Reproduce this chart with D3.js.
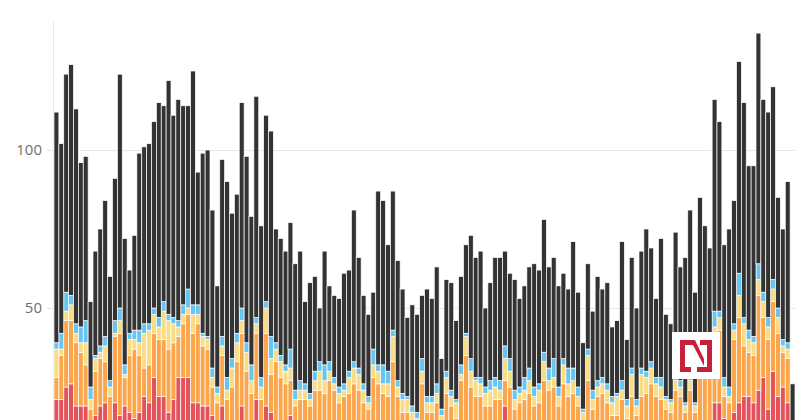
<!DOCTYPE html>
<html>
<head>
<meta charset="utf-8">
<script src="https://cdn.jsdelivr.net/npm/d3@7"></script>
<style>
  html, body { margin: 0; padding: 0; background: #fff; }
  svg { display: block; }
</style>
</head>
<body>
<svg id="chart" width="800" height="420"></svg>
<script>
// ---- data (segment values per bar, bottom to top) ----
const red = [21,21,25,26,19,19,19,14,16,19,20,12,20,16,19,17,15,17,22,20,28,22,22,17,21,28,28,28,20,20,
  19,19,16,10,19,12,12,13,19,12,12,21,12,19,17,12,12,12,16,10,10,10,10,12,12,12,12,11,10,10,
  11,12,11,10,10,12,12,11,11,12,10,9,9,8,8,11,9,9,10,8,10,9,8,11,12,11,10,10,9,9,
  10,10,19,11,9,10,10,11,9,10,11,10,11,9,11,10,10,9,8,11,9,10,10,9,8,8,10,8,12,8,
  12,11,12,10,10,8,8,10,10,9,13,9,12,12,12,20,20,15,14,17,20,22,22,20,24,28,18,30,22,25,
  20,6];
const orange = [7,14,21,20,20,17,13,4,14,15,13,10,21,26,9,18,22,18,9,12,14,18,18,20,18,13,17,20,22,25,
  19,18,9,10,16,9,13,20,23,18,11,21,9,23,12,21,16,14,11,9,11,11,9,12,12,11,15,13,10,12,
  12,14,13,10,8,16,14,12,11,21,12,8,8,6,5,15,8,8,10,5,13,10,7,16,23,14,12,12,10,10,
  11,11,8,14,9,10,11,12,10,10,16,14,14,10,15,12,13,10,6,16,9,12,13,11,8,8,11,7,10,8,
  10,12,14,12,11,10,9,14,12,8,11,8,18,18,20,22,23,7,6,23,27,16,14,15,30,19,22,22,20,11,
  14,4];
const yellow = [9,2,3,5,3,3,7,3,4,2,5,3,1,4,1,5,3,4,11,11,6,4,9,9,6,3,3,2,6,3,
  3,3,3,3,3,3,6,6,4,6,4,3,4,8,5,4,5,4,4,2,3,3,2,3,6,4,3,2,3,2,
  5,5,5,4,2,4,4,3,4,8,3,4,4,3,2,4,3,3,3,3,5,3,5,2,6,5,5,4,4,5,
  4,3,7,5,3,3,3,4,3,4,6,3,3,3,6,4,4,3,3,8,3,3,3,4,4,6,3,4,7,3,
  7,5,5,4,4,3,3,3,3,2,3,2,3,3,3,2,4,3,2,3,7,7,4,4,5,5,4,4,5,2,
  3,2];
const blue = [2,5,6,3,3,5,7,4,1,2,3,2,4,4,3,2,3,4,3,2,2,3,3,2,2,2,3,6,3,3,
  1,1,3,2,3,4,3,3,4,3,5,2,3,2,7,2,2,2,6,3,3,2,2,3,3,5,3,2,2,2,
  2,2,2,2,2,5,2,6,4,2,2,2,1,2,2,4,2,2,3,2,2,2,1,3,1,4,1,2,2,3,
  3,3,4,4,3,2,4,4,3,2,3,4,6,3,2,5,4,3,1,2,3,2,2,2,2,1,3,2,2,2,
  2,2,2,2,3,1,1,2,2,1,2,1,2,2,2,5,2,3,3,2,7,2,3,2,5,3,3,3,3,2,
  2,2];
const other = [73,60,69,73,68,52,52,27,33,37,43,33,45,74,40,20,30,56,56,57,59,68,62,74,64,70,63,58,74,42,
  57,59,50,32,56,62,46,44,65,59,47,70,48,59,65,36,37,36,40,40,41,26,35,30,17,36,24,26,28,35,
  32,48,35,28,26,18,55,52,40,44,38,33,25,32,31,20,34,31,37,16,29,34,25,28,28,39,38,40,25,31,
  38,39,30,27,35,28,29,32,39,36,42,32,32,32,27,25,40,30,21,27,25,33,28,32,22,23,44,19,35,29,
  37,45,36,25,44,26,24,45,36,46,52,35,50,41,32,67,60,42,50,39,67,68,52,54,73,61,65,61,35,35,
  51,12];
const yTicks = [50, 100];

// ---- chart ----
const keys = ["red", "orange", "yellow", "blue", "other"];
const colors = { red: "#e4535b", orange: "#fba64c", yellow: "#fadc86", blue: "#66c6f1", other: "#333333" };
const series = { red, orange, yellow, blue, other };
const categories = red.map((_, i) => i);
const rows = categories.map(i => {
  const r = { cat: i };
  keys.forEach(k => r[k] = series[k][i]);
  return r;
});

const svg = d3.select("#chart");
const x = d3.scaleBand().domain(categories).range([54, 795]).padding(0);
const y = d3.scaleLinear().domain([0, 100]).range([466, 150]);

// grid
svg.append("g").selectAll("line").data(yTicks).join("line")
  .attr("x1", 47).attr("x2", 795)
  .attr("y1", d => Math.round(y(d)) + 0.5).attr("y2", d => Math.round(y(d)) + 0.5)
  .attr("stroke", "#e6e6e6").attr("stroke-width", 1);

// y axis line
svg.append("line")
  .attr("x1", 53.5).attr("x2", 53.5)
  .attr("y1", y(140.5)).attr("y2", 420)
  .attr("stroke", "#e6e6e6").attr("stroke-width", 1);

// tick labels
svg.append("g").selectAll("text").data(yTicks).join("text")
  .attr("x", 42).attr("y", d => y(d))
  .attr("dy", "0.35em")
  .attr("text-anchor", "end")
  .attr("font-family", "'Open Sans', 'Noto Sans', sans-serif")
  .attr("font-size", 15)
  .attr("fill", "#6f6f6f")
  .text(d => d);

// stacked bars
const stacked = d3.stack().keys(keys)(rows);
svg.append("g").selectAll("g").data(stacked).join("g")
  .attr("fill", d => colors[d.key])
  .selectAll("rect").data(d => d).join("rect")
  .attr("x", d => x(d.data.cat))
  .attr("width", x.bandwidth())
  .attr("y", d => y(d[1]))
  .attr("height", d => Math.max(0, y(d[0]) - y(d[1])))
  .attr("stroke", "#fff")
  .attr("stroke-width", 0.7);

// logo
const logo = svg.append("g").attr("transform", "translate(672,332)");
logo.append("rect").attr("width", 48).attr("height", 47).attr("fill", "#fff");
const mark = logo.append("g").attr("transform", "translate(8,8)").attr("fill", "#c8203b");
mark.append("path").attr("d", "M0,0 H15 L24,19 V26 L13,5 H5 V27 H11 V32 H0 Z");
mark.append("path").attr("d", "M32,0 V32 H17 V27 H27 V5 H20 V0 Z");
</script>
</body>
</html>
